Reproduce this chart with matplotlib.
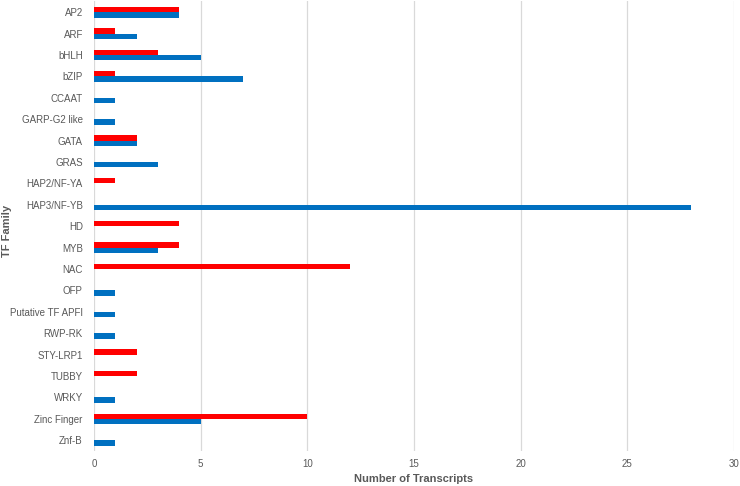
import matplotlib
matplotlib.use("Agg")
import matplotlib.pyplot as plt
import numpy as np

plt.rcParams['font.family'] = ['Liberation Sans', 'DejaVu Sans']

families = ["AP2", "ARF", "bHLH", "bZIP", "CCAAT", "GARP-G2 like", "GATA", "GRAS",
            "HAP2/NF-YA", "HAP3/NF-YB", "HD", "MYB", "NAC", "OFP", "Putative TF APFI",
            "RWP-RK", "STY-LRP1", "TUBBY", "WRKY", "Zinc Finger", "Znf-B"]
red_values = [4, 1, 3, 1, 0, 0, 2, 0, 1, 0, 4, 4, 12, 0, 0, 0, 2, 2, 0, 10, 0]
blue_values = [4, 2, 5, 7, 1, 1, 2, 3, 0, 28, 0, 3, 0, 1, 1, 1, 0, 0, 1, 5, 1]
x_ticks = [0, 5, 10, 15, 20, 25, 30]

fig = plt.figure(figsize=(7.4, 4.86), dpi=100)
ax = fig.add_axes([0.127, 0.072, 0.865, 0.925])

y = np.arange(len(families))
h = 0.25
ax.barh(y - h / 2, red_values, height=h, color="#FF0000", zorder=3)
ax.barh(y + h / 2, blue_values, height=h, color="#0070C0", zorder=3)

ax.set_ylim(len(families) - 0.5, -0.5)
ax.set_xlim(0, 30)
ax.set_xticks(x_ticks)
ax.set_yticks(y)
ax.set_yticklabels(families)
ax.xaxis.grid(True, color="#D9D9D9", linewidth=0.9, zorder=0)
ax.set_axisbelow(True)
for s in ax.spines.values():
    s.set_visible(False)
ax.tick_params(axis='both', length=0, colors="#595959", labelsize=7)
ax.tick_params(axis='x', pad=6)
ax.tick_params(axis='y', pad=8)
ax.set_xlabel("Number of Transcripts", fontsize=8, fontweight='bold', color="#595959")
ax.set_ylabel("TF Family", fontsize=8, fontweight='bold', color="#595959")
ax.xaxis.set_label_coords(0.5, -0.052)
ax.yaxis.set_label_coords(-0.128, 0.49)

fig.savefig("out.png", dpi=100)
